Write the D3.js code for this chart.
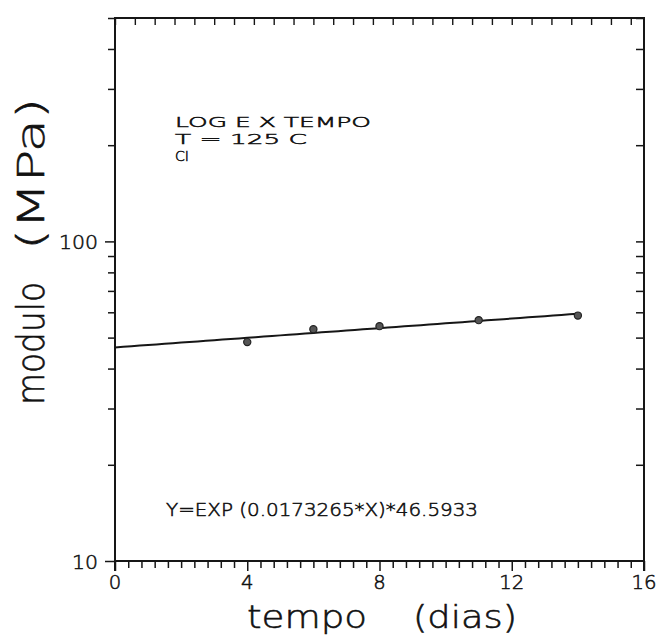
<!DOCTYPE html>
<html>
<head>
<meta charset="utf-8">
<script src="https://cdn.jsdelivr.net/npm/d3@7"></script>
<style>
  html, body { margin: 0; padding: 0; background: #fff; }
  svg { display: block; }
  text { font-family: "DejaVu Sans", "Liberation Sans", sans-serif; font-weight: 200;
         fill: #111; stroke: #111; stroke-width: 0.55; }
</style>
</head>
<body>
<svg id="chart" width="659" height="638"></svg>
<script>
// Measured elastic modulus vs. ageing time at 125 C
const days = [4, 6, 8, 11, 14];
const modulus = [48.4, 53.1, 54.3, 56.7, 58.6];

// Exponential fit Y = EXP(B*X)*A
const fitA = 46.5933;
const fitB = 0.0173265;
const fitRange = [0, 14];

const xTickLabels = [0, 4, 8, 12, 16];
const yTickLabels = [10, 100];
const noteLines = ["LOG  E  X  TEMPO", "T  =  125  C", "CI"];
const xTitle = ["tempo", "(dias)"];
const yTitle = ["modulo", "(MPa)"];

const svg = d3.select("#chart");
const plotL = 115, plotR = 644, plotT = 18, plotB = 561;

const x = d3.scaleLinear().domain([0, 16]).range([plotL, plotR]);
const y = d3.scaleLog().domain([10, 500]).range([plotB, plotT]);

const ink = "#161616";

// frame
svg.append("rect")
  .attr("x", plotL).attr("y", plotT)
  .attr("width", plotR - plotL).attr("height", plotB - plotT)
  .attr("fill", "none").attr("stroke", ink).attr("stroke-width", 2);

// log ticks: 1..9 within each decade
const logTicks = [];
for (let d = 10; d <= 100; d *= 10) {
  for (let m = 1; m <= 9; m++) {
    const v = m * d;
    if (v >= 10 && v <= 500) logTicks.push(v);
  }
}

const isMajorX = d => Math.abs(d / 4 - Math.round(d / 4)) < 1e-6;

// bottom axis (ticks every 0.4 day, pointing down)
const bottomTicks = d3.range(0, 16.001, 0.4);
const bottomAxis = d3.axisBottom(x).tickValues(bottomTicks).tickSize(8).tickFormat("");
const gB = svg.append("g").attr("transform", `translate(0,${plotB})`).call(bottomAxis);
gB.select(".domain").remove();
gB.selectAll(".tick line").attr("stroke", ink).attr("stroke-width", 1.5)
  .attr("y2", d => isMajorX(d) ? 10 : 7);

svg.append("g").selectAll("text").data(xTickLabels).join("text")
  .attr("x", d => x(d)).attr("y", plotB + 28)
  .attr("text-anchor", "middle").attr("font-size", 20)
  .attr("textLength", d => String(d).length * 12.5).attr("lengthAdjust", "spacingAndGlyphs")
  .text(d => d);

// top axis (ticks pointing into the plot)
const topTicks = d3.range(0, 15.7, 0.6);
const topAxis = d3.axisBottom(x).tickValues(topTicks).tickSize(7).tickFormat("");
const gT = svg.append("g").attr("transform", `translate(0,${plotT})`).call(topAxis);
gT.select(".domain").remove();
gT.selectAll(".tick line").attr("stroke", ink).attr("stroke-width", 1.4);

// left axis (ticks pointing out)
const leftAxis = d3.axisLeft(y).tickValues(logTicks).tickSize(9).tickFormat("");
const gL = svg.append("g").attr("transform", `translate(${plotL},0)`).call(leftAxis);
gL.select(".domain").remove();
gL.selectAll(".tick line").attr("stroke", ink).attr("stroke-width", 1.5)
  .attr("x2", d => (d === 10 || d === 100) ? -10 : -7);

svg.append("g").selectAll("text").data(yTickLabels).join("text")
  .attr("x", plotL - 17).attr("y", d => y(d) + 8)
  .attr("text-anchor", "end").attr("font-size", 20)
  .attr("textLength", d => String(d).length * 13).attr("lengthAdjust", "spacingAndGlyphs")
  .text(d => d);

// right axis (ticks pointing in)
const rightAxis = d3.axisLeft(y).tickValues(logTicks.filter(v => v > 10)).tickSize(8).tickFormat("");
const gR = svg.append("g").attr("transform", `translate(${plotR},0)`).call(rightAxis);
gR.select(".domain").remove();
gR.selectAll(".tick line").attr("stroke", ink).attr("stroke-width", 1.5);

// corner extensions below the bottom edge
svg.append("line").attr("x1", plotL).attr("x2", plotL).attr("y1", plotB).attr("y2", plotB + 10)
  .attr("stroke", ink).attr("stroke-width", 2);
svg.append("line").attr("x1", plotR).attr("x2", plotR).attr("y1", plotB).attr("y2", plotB + 10)
  .attr("stroke", ink).attr("stroke-width", 2);

// fitted curve
const fitPts = d3.range(fitRange[0], fitRange[1] + 0.001, 0.25).map(t => [t, fitA * Math.exp(fitB * t)]);
svg.append("path")
  .datum(fitPts)
  .attr("fill", "none").attr("stroke", ink).attr("stroke-width", 2)
  .attr("d", d3.line().x(d => x(d[0])).y(d => y(d[1])));

// measured points
svg.append("g").selectAll("circle").data(days.map((d, i) => [d, modulus[i]])).join("circle")
  .attr("cx", d => x(d[0])).attr("cy", d => y(d[1])).attr("r", 3.6)
  .attr("fill", "#555").attr("stroke", "#222").attr("stroke-width", 1.2);

// annotation block
const noteWidths = [196, 132, 14];
svg.append("g").selectAll("text").data(noteLines).join("text")
  .attr("x", 175).attr("y", (d, i) => 127 + i * 17)
  .attr("font-size", 14.5)
  .attr("textLength", (d, i) => noteWidths[i]).attr("lengthAdjust", "spacingAndGlyphs")
  .text(d => d);

// fit equation
svg.append("text")
  .attr("x", 166).attr("y", 516)
  .attr("font-size", 18)
  .attr("textLength", 312).attr("lengthAdjust", "spacingAndGlyphs")
  .text(`Y=EXP  (${fitB}*X)*${fitA}`);

// axis titles
const xt = svg.append("text").attr("y", 628).attr("font-size", 32);
xt.append("tspan").attr("x", 247).attr("textLength", 120).attr("lengthAdjust", "spacingAndGlyphs").text(xTitle[0]);
xt.append("tspan").attr("x", 413).attr("textLength", 104).attr("lengthAdjust", "spacingAndGlyphs").text(xTitle[1]);

const yt = svg.append("text").attr("transform", "translate(44,0) rotate(-90)").attr("font-size", 37);
yt.append("tspan").attr("x", -405).attr("textLength", 123).attr("lengthAdjust", "spacingAndGlyphs").text(yTitle[0]);
yt.append("tspan").attr("x", -250).attr("textLength", 152).attr("lengthAdjust", "spacingAndGlyphs").text(yTitle[1]);
</script>
</body>
</html>
